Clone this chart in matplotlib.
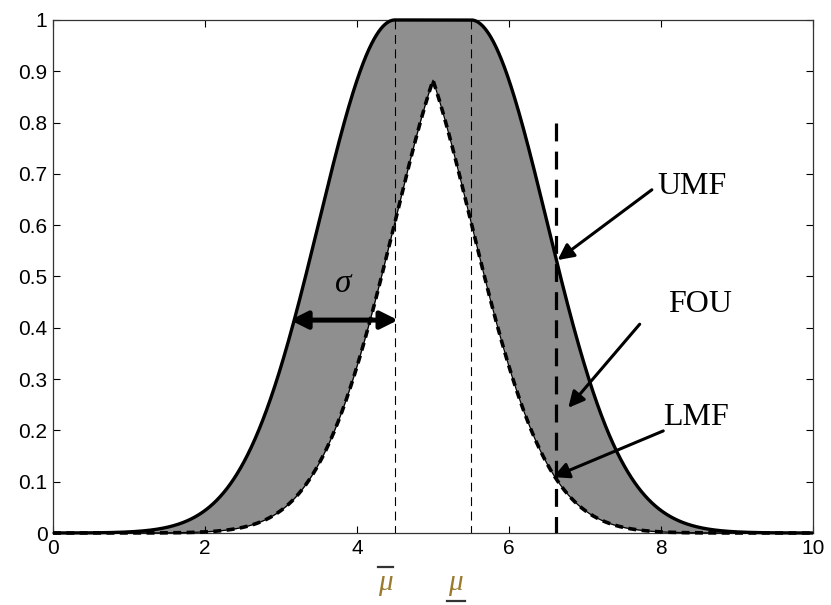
import numpy as np
import matplotlib
matplotlib.use("Agg")
import matplotlib.pyplot as plt
from matplotlib.transforms import blended_transform_factory
from matplotlib.lines import Line2D

# Interval type-2 Gaussian MF with uncertain mean
mean_left = 4.5
mean_right = 5.5
sigma = 1.0
x_range = (0.0, 10.0)
cut_x = 6.62          # vertical cut through the FOU
cut_height = 0.8

x_ticks = [0, 2, 4, 6, 8, 10]
x_tick_labels = ["0", "2", "4", "6", "8", "10"]
y_ticks = [0, 0.1, 0.2, 0.3, 0.4, 0.5, 0.6, 0.7, 0.8, 0.9, 1.0]
y_tick_labels = ["0", "0.1", "0.2", "0.3", "0.4", "0.5", "0.6", "0.7", "0.8", "0.9", "1"]

x = np.linspace(x_range[0], x_range[1], 2001)
g_left = np.exp(-0.5 * ((x - mean_left) / sigma) ** 2)
g_right = np.exp(-0.5 * ((x - mean_right) / sigma) ** 2)
umf = np.where(x < mean_left, g_left, np.where(x > mean_right, g_right, 1.0))
lmf = np.minimum(g_left, g_right)

fig = plt.figure(figsize=(8.31, 6.05), dpi=100)
ax = fig.add_axes([0.0638, 0.119, 0.9145, 0.848])

ax.fill_between(x, lmf, umf, color="#8f8f8f", linewidth=0, zorder=1)

# thin dashed guides at the two means
for m in (mean_left, mean_right):
    ax.plot([m, m], [1, 0], color="black", lw=0.8, linestyle=(0, (8, 5)), zorder=2)

ax.plot(x, umf, color="black", lw=2.4, zorder=4, clip_on=False, solid_capstyle="butt")
ax.plot(x, lmf, color="black", lw=0.9, zorder=4, clip_on=False)
ax.plot(x, lmf, color="black", lw=2.6, linestyle=(0, (2.2, 1.5)), zorder=4, clip_on=False)

# thick dashed vertical cut, dashes spaced so both ends land on a dash
ax.plot([cut_x, cut_x], [cut_height, 0], color="black", lw=2.3,
        linestyle=(0, (5.6, 3.2)), zorder=5)

ax.set_xlim(*x_range)
ax.set_ylim(0, 1)
ax.set_xticks(x_ticks)
ax.set_xticklabels(x_tick_labels)
ax.set_yticks(y_ticks)
ax.set_yticklabels(y_tick_labels)
ax.tick_params(direction="in", length=5, width=0.8, top=True, right=True,
               labelsize=15, pad=4, colors="black")
for lab in ax.get_xticklabels() + ax.get_yticklabels():
    lab.set_family("Liberation Sans")
for sp in ax.spines.values():
    sp.set_linewidth(0.9)
    sp.set_color("#333333")

serif = "Liberation Serif"
arrow_kw = dict(arrowstyle="-|>", lw=2.2, color="black", mutation_scale=24,
                shrinkA=0, shrinkB=0)

ax.text(7.95, 0.66, "UMF", family=serif, fontsize=23, ha="left", va="baseline")
ax.annotate("", xy=(6.64, 0.532), xytext=(7.88, 0.669), arrowprops=arrow_kw, zorder=6)

ax.text(8.09, 0.431, "FOU", family=serif, fontsize=23, ha="left", va="baseline")
ax.annotate("", xy=(6.78, 0.244), xytext=(7.72, 0.407), arrowprops=arrow_kw, zorder=6)

ax.text(8.03, 0.21, "LMF", family=serif, fontsize=23, ha="left", va="baseline")
ax.annotate("", xy=(6.58, 0.109), xytext=(8.03, 0.199), arrowprops=arrow_kw, zorder=6)

# sigma double arrow
ax.annotate("", xy=(3.12, 0.415), xytext=(4.54, 0.415),
            arrowprops=dict(arrowstyle="<|-|>", lw=3.6, color="black",
                            mutation_scale=26, shrinkA=0, shrinkB=0), zorder=6)
ax.text(3.82, 0.485, "σ", family=serif, style="italic", fontsize=24,
        ha="center", va="center", zorder=6)

# mean labels under the axis
tr = blended_transform_factory(ax.transData, fig.transFigure)
mu_color = "#9a7a2e"
ax.text(4.37, 0.036, "μ", family=serif, style="italic", fontsize=21,
        color=mu_color, ha="center", va="center", transform=tr, clip_on=False)
ax.text(5.30, 0.036, "μ", family=serif, style="italic", fontsize=21,
        color=mu_color, ha="center", va="center", transform=tr, clip_on=False)
fig.add_artist(Line2D([4.27, 4.48], [0.063, 0.063], transform=tr, color="#333333", lw=1.6))
fig.add_artist(Line2D([5.19, 5.42], [0.006, 0.006], transform=tr, color="#333333", lw=1.6))

fig.savefig("out.png", dpi=100)
